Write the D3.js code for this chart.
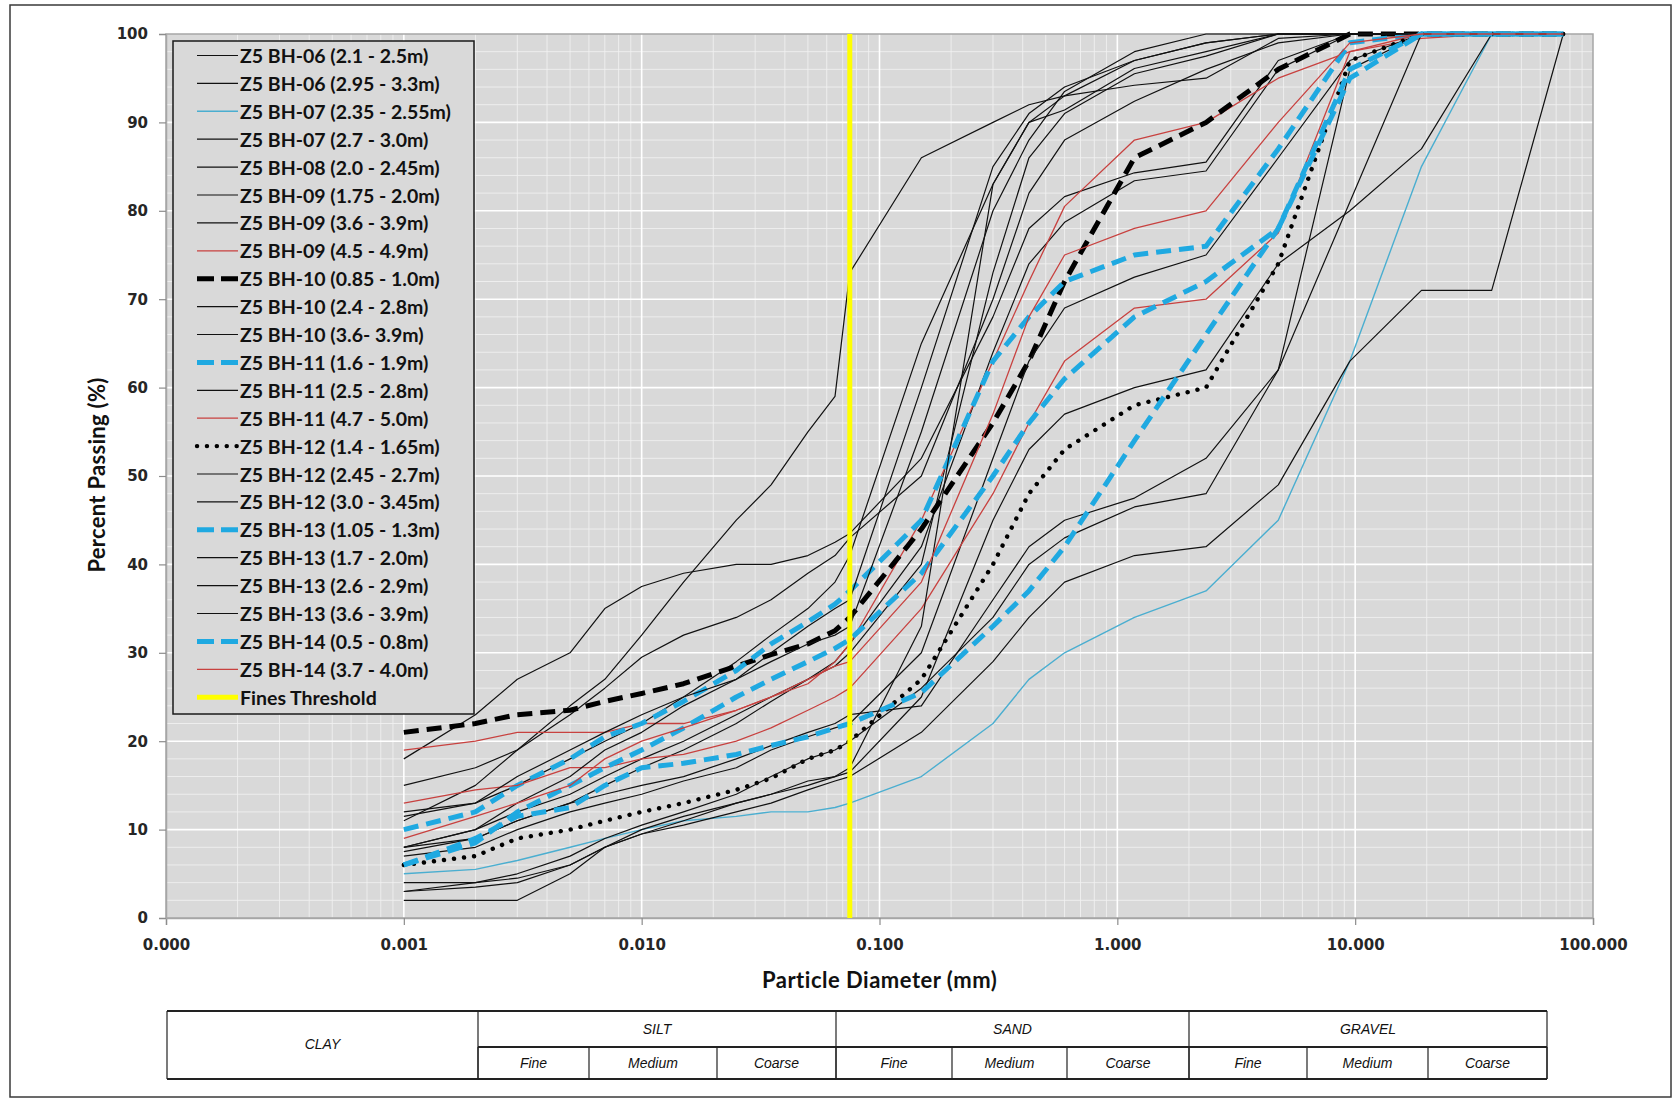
<!DOCTYPE html>
<html>
<head>
<meta charset="utf-8">
<script src="https://cdn.jsdelivr.net/npm/d3@7"></script>
<style>
  html, body { margin: 0; padding: 0; background: #ffffff; }
  svg { display: block; }
</style>
</head>
<body>
<svg id="chart" width="1680" height="1102"></svg>
<script>
// Sieve / hydrometer particle sizes (mm) shared by every test
const sizes = [0.001, 0.002, 0.003, 0.005, 0.007, 0.01, 0.015, 0.025, 0.035, 0.05, 0.065,
               0.075, 0.15, 0.3, 0.425, 0.6, 1.18, 2.36, 4.75, 9.5, 19, 37.5, 75];

// Percent passing for each sample, aligned with `sizes`
const bh06a = [15, 17, 19, 24, 27, 32, 38, 45, 49, 55, 59, 73, 86, 90, 92, 93, 94.2, 95, 99.5, 100, 100, 100, 100];
const bh06b = [18, 23, 27, 30, 35, 37.5, 39, 40, 40, 41, 42.5, 43.5, 52, 68, 78, 81.6, 84.3, 85.5, 97, 100, 100, 100, 100];
const bh07a = [5, 5.5, 6.5, 8, 9, 10, 11, 11.5, 12, 12, 12.5, 13, 16, 22, 27, 30, 34, 37, 45, 63, 85, 100, 100];
const bh07b = [11, 15, 19, 23, 26, 29.5, 32, 34, 36, 39, 41, 43, 50, 70, 82, 88, 92.4, 96, 99, 100, 100, 100, 100];
const bh08a = [12, 13, 15, 18, 20, 22, 25, 29, 32, 35, 38, 41, 65, 83, 90, 91.4, 96.1, 98, 100, 100, 100, 100, 100];
const bh09a = [8, 10, 12, 14, 16, 18, 20, 23, 25, 27, 28.5, 30, 40, 73, 86, 91, 95.5, 97.5, 100, 100, 100, 100, 100];
const bh09b = [8, 9, 11, 13, 15, 17, 19, 22, 24.5, 27, 29, 31, 42, 64, 74, 78.7, 83.4, 84.5, 96, 100, 100, 100, 100];
const bh09c = [19, 20, 21, 21, 21, 22, 22, 23.5, 25, 26.5, 29, 31, 45, 63, 72, 80.5, 88, 90, 95, 98, 99.5, 100, 100];
const bh10a = [21, 22, 23, 23.5, 24.5, 25.4, 26.5, 28.5, 29.8, 31, 32.5, 34, 44, 56, 63, 72, 86, 90, 96, 100, 100, 100, 100];
const bh10b = [7, 8, 10, 12, 13, 14, 15.5, 17, 19, 20.5, 21.5, 22, 30, 52, 63, 69, 72.5, 75, 86, 97, 100, 100, 100];
const bh10c = [2, 2, 2, 5, 8, 9.5, 10.5, 12, 13, 14.5, 15.5, 16, 21, 29, 34, 38, 41, 42, 49, 63, 71, 71, 100];
const bh11a = [10, 12, 15, 18, 20.5, 22, 24.5, 28, 31, 33.5, 35.5, 37, 45, 63, 68, 72, 75, 76, 87, 99, 100, 100, 100];
const bh11b = [4, 4, 4.5, 6, 8, 9.5, 11, 13, 14, 15.5, 16, 16.5, 25, 45, 53, 57, 60, 62, 74, 80, 87, 100, 100];
const bh11c = [13, 14.5, 15, 17, 17, 18, 18.5, 20, 21.5, 23.5, 25, 26, 35, 48, 56, 63, 69, 70, 77.5, 98, 100, 100, 100];
const bh12a = [6, 7, 9, 10, 11, 12, 13, 14.5, 15.8, 18, 19, 20, 27, 40, 48, 53, 58, 60, 74, 97, 100, 100, 100];
const bh12b = [7.5, 9, 11, 13, 14, 15, 16, 18, 19.5, 21, 22, 23, 24, 36, 42, 45, 47.5, 52, 62, 96, 100, 100, 100];
const bh12c = [3, 4, 5, 7, 9, 10.5, 12, 14, 16, 18, 19, 20, 26, 34, 40, 43, 46.5, 48, 62, 81, 100, 100, 100];
const bh13a = [6, 8.5, 12, 15, 17, 19, 21.5, 25, 27, 29, 30.5, 31.5, 39, 50, 56, 61, 68, 72, 78, 95, 100, 100, 100];
const bh13b = [3, 3.5, 4, 6, 8, 10, 11.5, 13, 14, 15, 16, 17, 33, 83, 90, 93, 97, 99, 100, 100, 100, 100, 100];
const bh13c = [11.5, 13, 16, 19, 21, 23, 25, 27, 29, 31, 32, 33, 55, 80, 88, 93.5, 98, 100, 100, 100, 100, 100, 100];
const bh13d = [8, 10, 13, 16, 19, 21, 24, 27, 30, 33, 35, 36, 60, 85, 91, 94, 97, 99, 100, 100, 100, 100, 100];
const bh14a = [6, 9, 11.5, 12.5, 15, 17, 17.5, 18.5, 19.5, 20.5, 21.5, 22, 25.5, 33, 37, 42, 54, 66, 78, 96, 100, 100, 100];
const bh14b = [9, 11.5, 13, 15, 18, 20, 21.5, 23.5, 25, 27, 28.5, 29, 38, 57, 68, 75, 78, 80, 90, 99, 100, 100, 100];

const seriesNames = [
  "Z5 BH-06 (2.1 - 2.5m)", "Z5 BH-06 (2.95 - 3.3m)", "Z5 BH-07 (2.35 - 2.55m)", "Z5 BH-07 (2.7 - 3.0m)",
  "Z5 BH-08 (2.0 - 2.45m)", "Z5 BH-09 (1.75 - 2.0m)", "Z5 BH-09 (3.6 - 3.9m)", "Z5 BH-09 (4.5 - 4.9m)",
  "Z5 BH-10 (0.85 - 1.0m)", "Z5 BH-10 (2.4 - 2.8m)", "Z5 BH-10 (3.6- 3.9m)", "Z5 BH-11 (1.6 - 1.9m)",
  "Z5 BH-11 (2.5 - 2.8m)", "Z5 BH-11 (4.7 - 5.0m)", "Z5 BH-12 (1.4 - 1.65m)", "Z5 BH-12 (2.45 - 2.7m)",
  "Z5 BH-12 (3.0 - 3.45m)", "Z5 BH-13 (1.05 - 1.3m)", "Z5 BH-13 (1.7 - 2.0m)", "Z5 BH-13 (2.6 - 2.9m)",
  "Z5 BH-13 (3.6 - 3.9m)", "Z5 BH-14 (0.5 - 0.8m)", "Z5 BH-14 (3.7 - 4.0m)"
];
const seriesValues = [bh06a, bh06b, bh07a, bh07b, bh08a, bh09a, bh09b, bh09c, bh10a, bh10b, bh10c, bh11a,
                      bh11b, bh11c, bh12a, bh12b, bh12c, bh13a, bh13b, bh13c, bh13d, bh14a, bh14b];
const seriesKinds = ["black", "black", "cyan", "black", "black", "black", "black", "red",
                     "dashBlack", "black", "black", "dashBlue", "black", "red", "dotted", "black",
                     "black", "dashBlue", "black", "black", "black", "dashBlue", "red"];

const finesLabel = "Fines Threshold";
const finesSize = 0.075;

const yTickValues = [0, 10, 20, 30, 40, 50, 60, 70, 80, 90, 100];
const xTickValues = [0.0001, 0.001, 0.01, 0.1, 1, 10, 100];

const classMain = ["CLAY", "SILT", "SAND", "GRAVEL"];
const classSub = ["Fine", "Medium", "Coarse"];

// ---- line styles ----
const kindStyle = {
  black:     { stroke: "#111111", width: 1.2, dash: null, cap: "butt" },
  red:       { stroke: "#c8413f", width: 1.3, dash: null, cap: "butt" },
  cyan:      { stroke: "#4aaed0", width: 1.4, dash: null, cap: "butt" },
  dashBlack: { stroke: "#000000", width: 5,   dash: "15,8", cap: "butt" },
  dashBlue:  { stroke: "#1fa9e1", width: 5,   dash: "15,8", cap: "butt" },
  dotted:    { stroke: "#000000", width: 4.4, dash: "0.1,10", cap: "round" },
  fines:     { stroke: "#ffff00", width: 5,   dash: null, cap: "butt" }
};

// ---- layout ----
const plot = { left: 166, right: 1593, top: 34, bottom: 918 };
const svg = d3.select("#chart");

svg.append("rect").attr("x", 10).attr("y", 5).attr("width", 1661).attr("height", 1092)
  .attr("fill", "#ffffff").attr("stroke", "#3a3a3a").attr("stroke-width", 1.5);

const x = d3.scaleLog().domain([0.0001, 100]).range([plot.left, plot.right]);
const y = d3.scaleLinear().domain([0, 100]).range([plot.bottom, plot.top]);

// plot background
svg.append("rect")
  .attr("x", plot.left).attr("y", plot.top)
  .attr("width", plot.right - plot.left).attr("height", plot.bottom - plot.top)
  .attr("fill", "#d9d9d9");

// minor grid
const grid = svg.append("g");
const minorX = [];
for (let e = -4; e < 2; e++) {
  for (let m = 2; m <= 9; m++) minorX.push(m * Math.pow(10, e));
}
grid.selectAll(".mx").data(minorX).join("line")
  .attr("x1", d => x(d)).attr("x2", d => x(d))
  .attr("y1", plot.top).attr("y2", plot.bottom)
  .attr("stroke", "#f2f2f2").attr("stroke-width", 1).attr("opacity", 0.85);
const minorY = d3.range(2, 100, 2).filter(v => v % 10 !== 0);
grid.selectAll(".my").data(minorY).join("line")
  .attr("x1", plot.left).attr("x2", plot.right)
  .attr("y1", d => y(d)).attr("y2", d => y(d))
  .attr("stroke", "#f2f2f2").attr("stroke-width", 1).attr("opacity", 0.85);
// major grid
grid.selectAll(".Mx").data(xTickValues.slice(1, -1)).join("line")
  .attr("x1", d => x(d)).attr("x2", d => x(d))
  .attr("y1", plot.top).attr("y2", plot.bottom)
  .attr("stroke", "#ffffff").attr("stroke-width", 1.6);
grid.selectAll(".My").data(yTickValues.slice(1, -1)).join("line")
  .attr("x1", plot.left).attr("x2", plot.right)
  .attr("y1", d => y(d)).attr("y2", d => y(d))
  .attr("stroke", "#ffffff").attr("stroke-width", 1.6);

// frame
svg.append("rect")
  .attr("x", plot.left).attr("y", plot.top)
  .attr("width", plot.right - plot.left).attr("height", plot.bottom - plot.top)
  .attr("fill", "none").attr("stroke", "#a6a6a6").attr("stroke-width", 1.5);

// axes
const fmt = d3.format(".3f");
const xAxis = svg.append("g").attr("transform", `translate(0,${plot.bottom})`)
  .call(d3.axisBottom(x).tickValues(xTickValues).tickFormat(fmt).tickSize(7).tickPadding(14));
const yAxis = svg.append("g").attr("transform", `translate(${plot.left},0)`)
  .call(d3.axisLeft(y).tickValues(yTickValues).tickSize(7).tickPadding(11));
[xAxis, yAxis].forEach(a => {
  a.select(".domain").attr("stroke", "#a6a6a6").attr("stroke-width", 1.5);
  a.selectAll(".tick line").attr("stroke", "#8c8c8c").attr("stroke-width", 1.2);
  a.selectAll(".tick text")
    .attr("font-family", "DejaVu Sans, Verdana, sans-serif")
    .attr("font-weight", "bold").attr("font-size", 15).attr("fill", "#262626");
});

// axis titles
svg.append("text")
  .attr("transform", "translate(96,475) rotate(-90)")
  .attr("text-anchor", "middle").attr("dominant-baseline", "central")
  .attr("font-family", "Lato, sans-serif").attr("font-weight", "bold").attr("font-size", 22)
  .attr("letter-spacing", 0.3)
  .attr("fill", "#111").text("Percent Passing (%)");
svg.append("text")
  .attr("x", (x(0.075) + x(0.1)) / 2 + 15).attr("y", 979)
  .attr("text-anchor", "middle").attr("dominant-baseline", "central")
  .attr("font-family", "Lato, sans-serif").attr("font-weight", "bold").attr("font-size", 22)
  .attr("letter-spacing", 0.5)
  .attr("fill", "#111").text("Particle Diameter (mm)");

// data lines
const line = d3.line().x(d => x(d[0])).y(d => y(d[1]));
const series = seriesValues.map((vals, i) => ({
  name: seriesNames[i],
  kind: seriesKinds[i],
  points: sizes.map((s, j) => [s, vals[j]]).filter(p => p[1] != null)
}));

svg.append("clipPath").attr("id", "plotClip").append("rect")
  .attr("x", plot.left).attr("y", plot.top - 4)
  .attr("width", plot.right - plot.left).attr("height", plot.bottom - plot.top + 4);

svg.append("g").attr("clip-path", "url(#plotClip)")
  .selectAll("path").data(series).join("path")
  .attr("d", d => line(d.points))
  .attr("fill", "none")
  .attr("stroke", d => kindStyle[d.kind].stroke)
  .attr("stroke-width", d => kindStyle[d.kind].width)
  .attr("stroke-dasharray", d => kindStyle[d.kind].dash)
  .attr("stroke-linecap", d => kindStyle[d.kind].cap)
  .attr("stroke-linejoin", "round");

// fines threshold
svg.append("line")
  .attr("x1", x(finesSize)).attr("x2", x(finesSize))
  .attr("y1", y(0)).attr("y2", y(100))
  .attr("stroke", kindStyle.fines.stroke).attr("stroke-width", kindStyle.fines.width);

// legend
const legendItems = series.map(s => ({ name: s.name, kind: s.kind })).concat([{ name: finesLabel, kind: "fines" }]);
const lg = svg.append("g");
lg.append("rect").attr("x", 173).attr("y", 41).attr("width", 301).attr("height", 673)
  .attr("fill", "#d9d9d9").attr("stroke", "#1a1a1a").attr("stroke-width", 1.5);
const rows = lg.selectAll("g.row").data(legendItems).join("g")
  .attr("transform", (d, i) => `translate(0,${55.5 + i * 27.9})`);
rows.append("line")
  .attr("x1", 197).attr("x2", 238).attr("y1", 0).attr("y2", 0)
  .attr("stroke", d => kindStyle[d.kind].stroke)
  .attr("stroke-width", d => kindStyle[d.kind].width)
  .attr("stroke-dasharray", d => d.kind === "dotted" ? "0.1,9.8" : (d.kind.startsWith("dash") ? "17,7" : null))
  .attr("stroke-linecap", d => kindStyle[d.kind].cap);
rows.append("text")
  .attr("x", 240).attr("y", 0).attr("dominant-baseline", "central")
  .attr("font-family", "Lato, sans-serif").attr("font-weight", "bold").attr("font-size", 19.5)
  .attr("fill", "#111").text(d => d.name);

// soil classification table
const tbl = { left: 167, right: 1547, top: 1011, mid: 1047, bottom: 1079 };
const groupEdges = [tbl.left, 478, 836, 1189, tbl.right];
const subEdges = [478, 589, 717, 836, 952, 1067, 1189, 1307, 1428, 1547];
const tg = svg.append("g");
tg.append("line").attr("x1", tbl.left).attr("x2", tbl.right).attr("y1", tbl.top).attr("y2", tbl.top)
  .attr("stroke", "#222").attr("stroke-width", 2);
tg.append("line").attr("x1", tbl.left).attr("x2", tbl.right).attr("y1", tbl.bottom).attr("y2", tbl.bottom)
  .attr("stroke", "#222").attr("stroke-width", 2);
tg.append("line").attr("x1", groupEdges[1]).attr("x2", tbl.right).attr("y1", tbl.mid).attr("y2", tbl.mid)
  .attr("stroke", "#222").attr("stroke-width", 2);
tg.selectAll("line.g").data(groupEdges).join("line")
  .attr("x1", d => d).attr("x2", d => d).attr("y1", tbl.top).attr("y2", tbl.bottom)
  .attr("stroke", "#222").attr("stroke-width", 1.2);
tg.selectAll("line.s").data(subEdges).join("line")
  .attr("x1", d => d).attr("x2", d => d).attr("y1", tbl.mid).attr("y2", tbl.bottom)
  .attr("stroke", "#222").attr("stroke-width", 1.2);

const tableFont = t => t.attr("font-family", "Liberation Sans, Arial, sans-serif")
  .attr("font-style", "italic").attr("font-size", 14).attr("fill", "#111")
  .attr("text-anchor", "middle").attr("dominant-baseline", "central");
tableFont(tg.append("text").attr("x", (groupEdges[0] + groupEdges[1]) / 2).attr("y", 1044).text(classMain[0]));
for (let g = 1; g < 4; g++) {
  tableFont(tg.append("text").attr("x", (groupEdges[g] + groupEdges[g + 1]) / 2).attr("y", 1029).text(classMain[g]));
  for (let s = 0; s < 3; s++) {
    const a = subEdges[(g - 1) * 3 + s], b = subEdges[(g - 1) * 3 + s + 1];
    tableFont(tg.append("text").attr("x", (a + b) / 2).attr("y", 1063).text(classSub[s]));
  }
}
</script>
</body>
</html>
